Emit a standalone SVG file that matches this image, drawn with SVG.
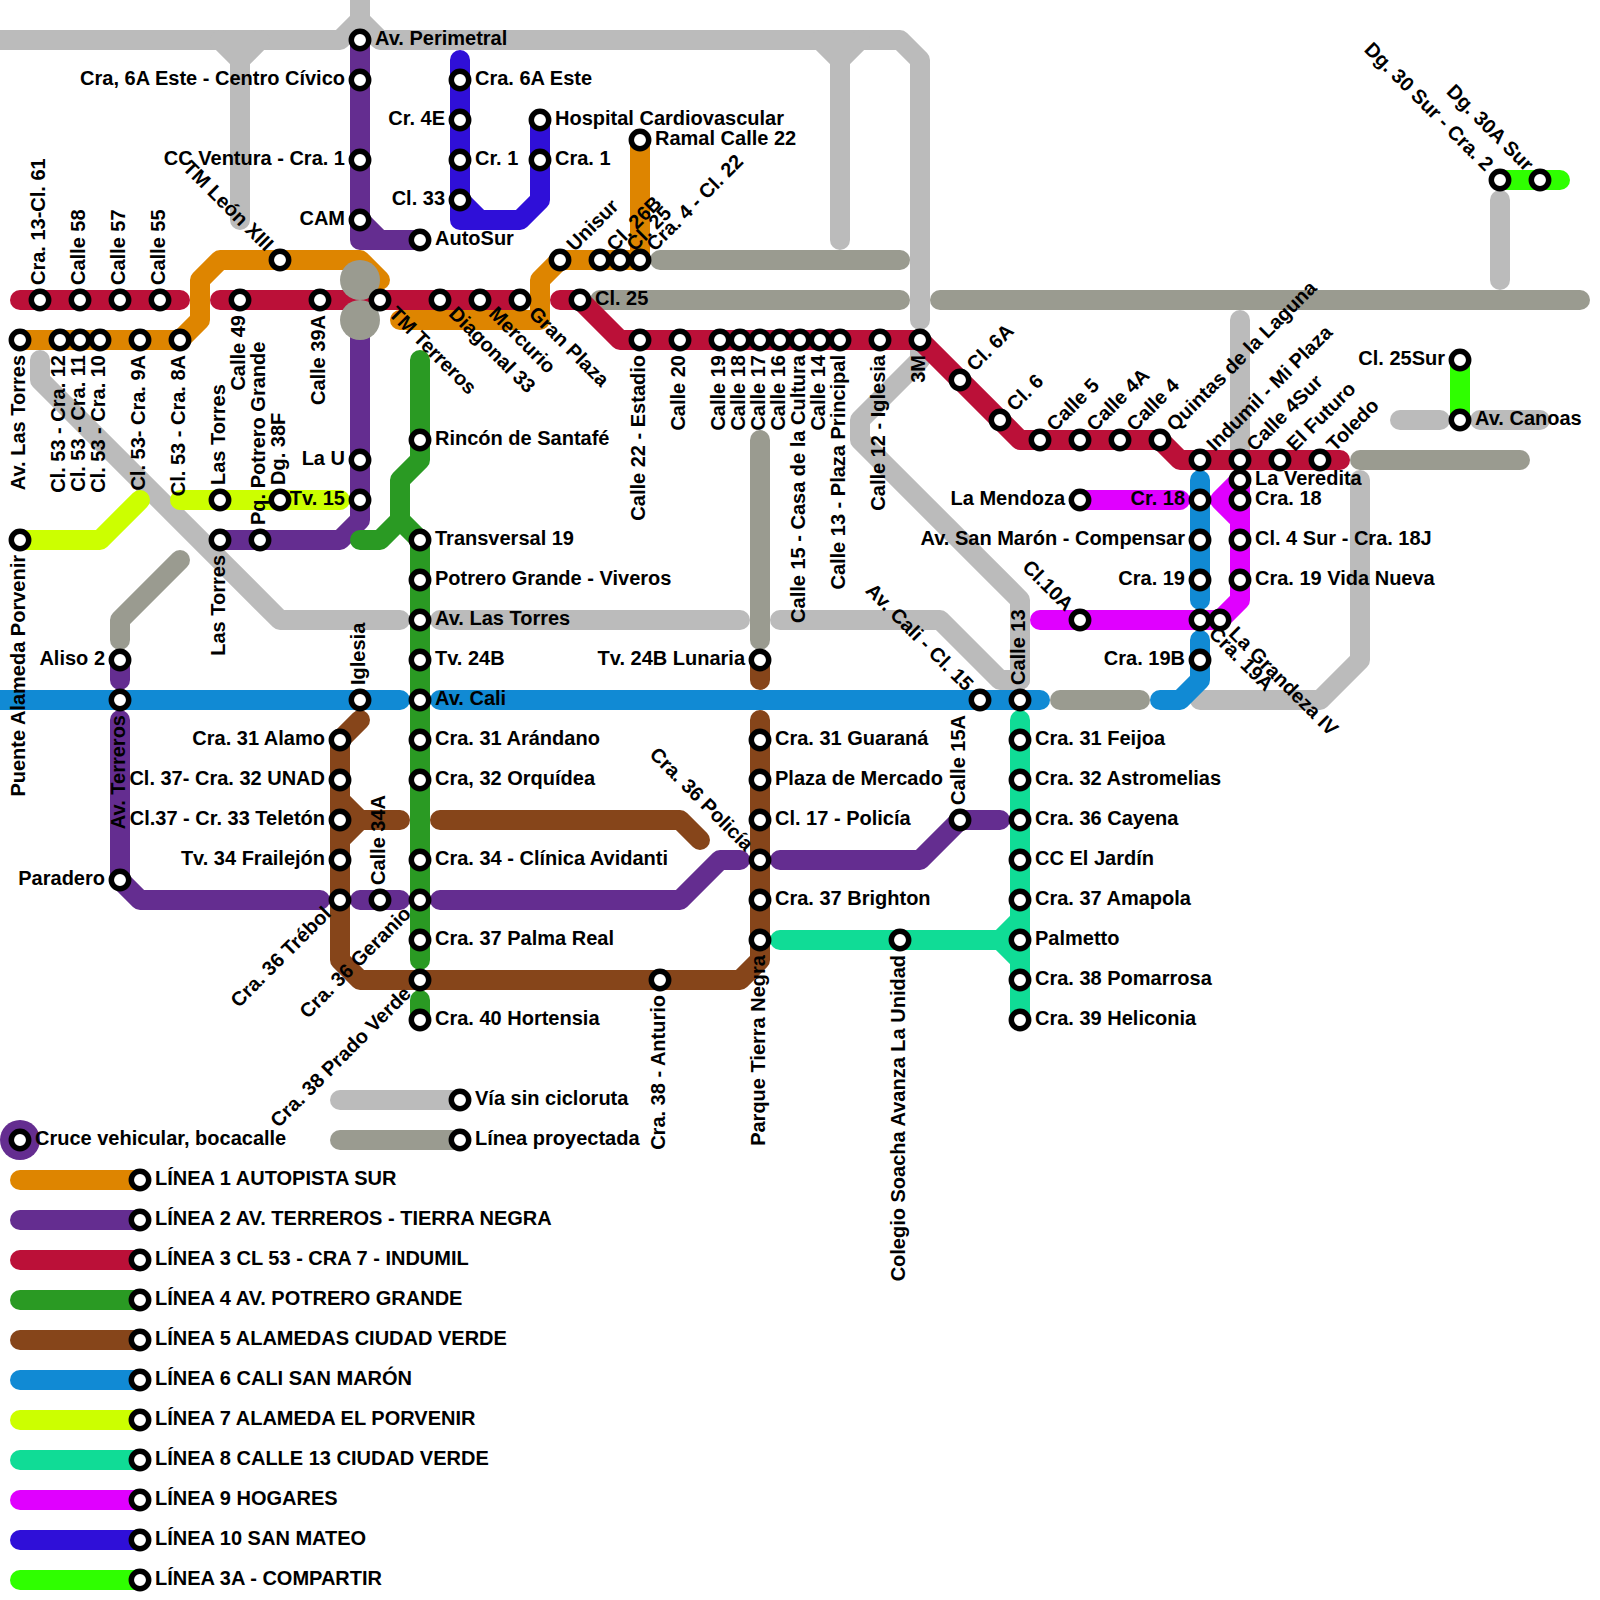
<svg xmlns="http://www.w3.org/2000/svg" width="1600" height="1600" viewBox="0 0 1600 1600">
<style>
text{font-family:"Liberation Sans",Arial,sans-serif;font-weight:bold;font-size:20px;fill:#000}
.e{text-anchor:end}
.st{fill:#fff;stroke:#000;stroke-width:5.5}
#lines path{fill:none;stroke-width:20;stroke-linecap:round;stroke-linejoin:round}
.g{stroke:#bbbbbb}.p{stroke:#9a9b90}.l1{stroke:#de8500}.l2{stroke:#642d90}.l3{stroke:#bb1038}.l4{stroke:#2a9a23}.l5{stroke:#86451a}.l6{stroke:#118ad4}.l7{stroke:#ccff00}.l8{stroke:#10dc96}.l9{stroke:#e000ff}.l10{stroke:#2f0fd8}.l3a{stroke:#2fff00}
.blob{fill:#9a9b90}
</style>
<rect width="1600" height="1600" fill="#fff"/>
<g id="lines">
<path class="g" d="M-20 40H340L360 20V-20M360 20L380 40H900L920 60V320"/>
<path class="g" d="M220 40L240 60V220M260 40L240 60"/>
<path class="g" d="M820 40L840 60V240M860 40L840 60"/>
<path class="g" d="M920 340V360L860 420V440L1020 600V680"/>
<path class="g" d="M40 360V380L280 620H400"/>
<path class="g" d="M440 620H740"/>
<path class="g" d="M780 620H940L1000 680H1020"/>
<path class="g" d="M1200 700H1320L1360 660V480"/>
<path class="g" d="M1240 320V450"/>
<path class="g" d="M1500 200V280"/>
<path class="g" d="M1400 420H1440"/>
<path class="g" d="M1480 420H1540"/>
<path class="g" d="M340 1100H460"/>
<path class="p" d="M660 260H900"/>
<path class="p" d="M600 300H900"/>
<path class="p" d="M940 300H1580"/>
<path class="p" d="M1360 460H1520"/>
<path class="p" d="M1060 700H1140"/>
<path class="p" d="M760 440V640"/>
<path class="p" d="M180 560L120 620V640"/>
<path class="p" d="M340 1140H460"/>
<path class="l2" d="M360 40V240H420M360 220L380 240"/>
<path class="l2" d="M360 320V520L340 540H220"/>
<path class="l2" d="M120 660V680"/>
<path class="l2" d="M120 720V880L140 900H320"/>
<path class="l2" d="M360 900H400"/>
<path class="l2" d="M440 900H680L720 860H740"/>
<path class="l2" d="M780 860H920L960 820H1000"/>
<path class="l3" d="M20 300H180"/>
<path class="l3" d="M220 300H520"/>
<path class="l3" d="M560 300H580L620 340H920L1020 440H1160L1180 460H1340"/>
<path class="l1" d="M20 340H180L200 320V280L220 260H360L380 280"/>
<path class="l1" d="M400 320H540V280L560 260H640V140"/>
<path class="l10" d="M460 60V220H520L540 200V120M460 200L480 220"/>
<path class="l7" d="M20 540H100L140 500"/>
<path class="l7" d="M180 500H340"/>
<path class="l4" d="M420 360V460L400 480V520L420 540V960M400 520L380 540H360"/>
<path class="l4" d="M420 1000V1020"/>
<path class="l5" d="M360 720L340 740V960L360 980H740L760 960V720"/>
<path class="l5" d="M340 800L360 820H400M340 840L360 820"/>
<path class="l5" d="M440 820H680L700 840"/>
<path class="l5" d="M760 660V680"/>
<path class="l9" d="M1080 500H1180"/>
<path class="l9" d="M1040 620H1220L1240 600V480L1220 500L1240 520"/>
<path class="l6" d="M-20 700H400"/>
<path class="l6" d="M440 700H1040"/>
<path class="l6" d="M1160 700H1180L1200 680V640"/>
<path class="l6" d="M1200 480V600"/>
<path class="l8" d="M1020 720V1020"/>
<path class="l8" d="M780 940H1000L1020 920M1000 940L1020 960"/>
<path class="l3a" d="M1460 360V420"/>
<path class="l3a" d="M1500 180H1560"/>
<path class="l1" d="M20 1180H140"/>
<path class="l2" d="M20 1220H140"/>
<path class="l3" d="M20 1260H140"/>
<path class="l4" d="M20 1300H140"/>
<path class="l5" d="M20 1340H140"/>
<path class="l6" d="M20 1380H140"/>
<path class="l7" d="M20 1420H140"/>
<path class="l8" d="M20 1460H140"/>
<path class="l9" d="M20 1500H140"/>
<path class="l10" d="M20 1540H140"/>
<path class="l3a" d="M20 1580H140"/>
</g>
<g id="crossing-blobs"><circle class="blob" cx="360" cy="280" r="20"/><circle class="blob" cx="360" cy="320" r="20"/></g>
<g id="nodes">
<g id="n1"><circle class="st" cx="360" cy="40" r="8.7"/><text x="375" y="44.5">Av. Perimetral</text></g>
<g id="n2"><circle class="st" cx="360" cy="80" r="8.7"/><text class="e" x="345" y="84.5">Cra, 6A Este - Centro Cívico</text></g>
<g id="n3"><circle class="st" cx="360" cy="160" r="8.7"/><text class="e" x="345" y="164.5">CC Ventura - Cra. 1</text></g>
<g id="n4"><circle class="st" cx="360" cy="220" r="8.7"/><text class="e" x="345" y="224.5">CAM</text></g>
<g id="n5"><circle class="st" cx="420" cy="240" r="8.7"/><text x="435" y="244.5">AutoSur</text></g>
<g id="n6"><circle class="st" cx="360" cy="460" r="8.7"/><text class="e" x="345" y="464.5">La U</text></g>
<g id="n7"><circle class="st" cx="360" cy="500" r="8.7"/><text class="e" x="345" y="504.5">Tv. 15</text></g>
<g id="n8"><circle class="st" cx="220" cy="540" r="8.7"/><text class="e" transform="translate(220 540) rotate(-90)" x="-15" y="5">Las Torres</text></g>
<g id="n9"><circle class="st" cx="260" cy="540" r="8.7"/><text transform="translate(260 540) rotate(-90)" x="15" y="5">Pq. Potrero Grande</text></g>
<g id="n10"><circle class="st" cx="120" cy="660" r="8.7"/><text class="e" x="105" y="664.5">Aliso 2</text></g>
<g id="n11"><circle class="st" cx="120" cy="700" r="8.7"/><text class="e" transform="translate(120 700) rotate(-90)" x="-15" y="5">Av. Terreros</text></g>
<g id="n12"><circle class="st" cx="120" cy="880" r="8.7"/><text class="e" x="105" y="884.5">Paradero</text></g>
<g id="n13"><circle class="st" cx="340" cy="900" r="8.7"/><text class="e" transform="translate(340 900) rotate(-45)" x="-16" y="5">Cra. 36 Trébol</text></g>
<g id="n14"><circle class="st" cx="380" cy="900" r="8.7"/><text transform="translate(380 900) rotate(-90)" x="15" y="5">Calle 34A</text></g>
<g id="n15"><circle class="st" cx="420" cy="900" r="8.7"/><text class="e" transform="translate(420 900) rotate(-45)" x="-16" y="5">Cra. 36 Geranio</text></g>
<g id="n16"><circle class="st" cx="760" cy="860" r="8.7"/><text class="e" transform="translate(760 860) rotate(45)" x="-16" y="5">Cra. 36 Policía</text></g>
<g id="n17"><circle class="st" cx="960" cy="820" r="8.7"/><text transform="translate(960 820) rotate(-90)" x="15" y="5">Calle 15A</text></g>
<g id="n18"><circle class="st" cx="1020" cy="820" r="8.7"/><text x="1035" y="824.5">Cra. 36 Cayena</text></g>
<g id="n19"><circle class="st" cx="40" cy="300" r="8.7"/><text transform="translate(40 300) rotate(-90)" x="15" y="5">Cra. 13-Cl. 61</text></g>
<g id="n20"><circle class="st" cx="80" cy="300" r="8.7"/><text transform="translate(80 300) rotate(-90)" x="15" y="5">Calle 58</text></g>
<g id="n21"><circle class="st" cx="120" cy="300" r="8.7"/><text transform="translate(120 300) rotate(-90)" x="15" y="5">Calle 57</text></g>
<g id="n22"><circle class="st" cx="160" cy="300" r="8.7"/><text transform="translate(160 300) rotate(-90)" x="15" y="5">Calle 55</text></g>
<g id="n23"><circle class="st" cx="240" cy="300" r="8.7"/><text class="e" transform="translate(240 300) rotate(-90)" x="-15" y="5">Calle 49</text></g>
<g id="n24"><circle class="st" cx="320" cy="300" r="8.7"/><text class="e" transform="translate(320 300) rotate(-90)" x="-15" y="5">Calle 39A</text></g>
<g id="n25"><circle class="st" cx="380" cy="300" r="8.7"/><text transform="translate(380 300) rotate(45)" x="16" y="5">TM Terreros</text></g>
<g id="n26"><circle class="st" cx="440" cy="300" r="8.7"/><text transform="translate(440 300) rotate(45)" x="16" y="5">Diagonal 33</text></g>
<g id="n27"><circle class="st" cx="480" cy="300" r="8.7"/><text transform="translate(480 300) rotate(45)" x="16" y="5">Mercurio</text></g>
<g id="n28"><circle class="st" cx="520" cy="300" r="8.7"/><text transform="translate(520 300) rotate(45)" x="16" y="5">Gran Plaza</text></g>
<g id="n29"><circle class="st" cx="580" cy="300" r="8.7"/><text x="595" y="304.5">Cl. 25</text></g>
<g id="n30"><circle class="st" cx="640" cy="340" r="8.7"/><text class="e" transform="translate(640 340) rotate(-90)" x="-15" y="5">Calle 22 - Estadio</text></g>
<g id="n31"><circle class="st" cx="680" cy="340" r="8.7"/><text class="e" transform="translate(680 340) rotate(-90)" x="-15" y="5">Calle 20</text></g>
<g id="n32"><circle class="st" cx="720" cy="340" r="8.7"/><text class="e" transform="translate(720 340) rotate(-90)" x="-15" y="5">Calle 19</text></g>
<g id="n33"><circle class="st" cx="740" cy="340" r="8.7"/><text class="e" transform="translate(740 340) rotate(-90)" x="-15" y="5">Calle 18</text></g>
<g id="n34"><circle class="st" cx="760" cy="340" r="8.7"/><text class="e" transform="translate(760 340) rotate(-90)" x="-15" y="5">Calle 17</text></g>
<g id="n35"><circle class="st" cx="780" cy="340" r="8.7"/><text class="e" transform="translate(780 340) rotate(-90)" x="-15" y="5">Calle 16</text></g>
<g id="n36"><circle class="st" cx="800" cy="340" r="8.7"/><text class="e" transform="translate(800 340) rotate(-90)" x="-15" y="5">Calle 15 - Casa de la Cultura</text></g>
<g id="n37"><circle class="st" cx="820" cy="340" r="8.7"/><text class="e" transform="translate(820 340) rotate(-90)" x="-15" y="5">Calle 14</text></g>
<g id="n38"><circle class="st" cx="840" cy="340" r="8.7"/><text class="e" transform="translate(840 340) rotate(-90)" x="-15" y="5">Calle 13 - Plaza Principal</text></g>
<g id="n39"><circle class="st" cx="880" cy="340" r="8.7"/><text class="e" transform="translate(880 340) rotate(-90)" x="-15" y="5">Calle 12 - Iglesia</text></g>
<g id="n40"><circle class="st" cx="920" cy="340" r="8.7"/><text class="e" transform="translate(920 340) rotate(-90)" x="-15" y="5">3M</text></g>
<g id="n41"><circle class="st" cx="960" cy="380" r="8.7"/><text transform="translate(960 380) rotate(-45)" x="16" y="5">Cl. 6A</text></g>
<g id="n42"><circle class="st" cx="1000" cy="420" r="8.7"/><text transform="translate(1000 420) rotate(-45)" x="16" y="5">Cl. 6</text></g>
<g id="n43"><circle class="st" cx="1040" cy="440" r="8.7"/><text transform="translate(1040 440) rotate(-45)" x="16" y="5">Calle 5</text></g>
<g id="n44"><circle class="st" cx="1080" cy="440" r="8.7"/><text transform="translate(1080 440) rotate(-45)" x="16" y="5">Calle 4A</text></g>
<g id="n45"><circle class="st" cx="1120" cy="440" r="8.7"/><text transform="translate(1120 440) rotate(-45)" x="16" y="5">Calle 4</text></g>
<g id="n46"><circle class="st" cx="1160" cy="440" r="8.7"/><text transform="translate(1160 440) rotate(-45)" x="16" y="5">Quintas de la Laguna</text></g>
<g id="n47"><circle class="st" cx="1200" cy="460" r="8.7"/><text transform="translate(1200 460) rotate(-45)" x="16" y="5">Indumil - Mi Plaza</text></g>
<g id="n48"><circle class="st" cx="1240" cy="460" r="8.7"/><text transform="translate(1240 460) rotate(-45)" x="16" y="5">Calle 4Sur</text></g>
<g id="n49"><circle class="st" cx="1280" cy="460" r="8.7"/><text transform="translate(1280 460) rotate(-45)" x="16" y="5">El Futuro</text></g>
<g id="n50"><circle class="st" cx="1320" cy="460" r="8.7"/><text transform="translate(1320 460) rotate(-45)" x="16" y="5">Toledo</text></g>
<g id="n51"><circle class="st" cx="20" cy="340" r="8.7"/><text class="e" transform="translate(20 340) rotate(-90)" x="-15" y="5">Av. Las Torres</text></g>
<g id="n52"><circle class="st" cx="60" cy="340" r="8.7"/><text class="e" transform="translate(60 340) rotate(-90)" x="-15" y="5">Cl. 53 - Cra. 12</text></g>
<g id="n53"><circle class="st" cx="80" cy="340" r="8.7"/><text class="e" transform="translate(80 340) rotate(-90)" x="-15" y="5">Cl. 53 - Cra. 11</text></g>
<g id="n54"><circle class="st" cx="100" cy="340" r="8.7"/><text class="e" transform="translate(100 340) rotate(-90)" x="-15" y="5">Cl. 53 - Cra. 10</text></g>
<g id="n55"><circle class="st" cx="140" cy="340" r="8.7"/><text class="e" transform="translate(140 340) rotate(-90)" x="-15" y="5">Cl. 53- Cra. 9A</text></g>
<g id="n56"><circle class="st" cx="180" cy="340" r="8.7"/><text class="e" transform="translate(180 340) rotate(-90)" x="-15" y="5">Cl. 53 - Cra. 8A</text></g>
<g id="n57"><circle class="st" cx="280" cy="260" r="8.7"/><text class="e" transform="translate(280 260) rotate(45)" x="-16" y="5">TM León XIII</text></g>
<g id="n58"><circle class="st" cx="560" cy="260" r="8.7"/><text transform="translate(560 260) rotate(-45)" x="16" y="5">Unisur</text></g>
<g id="n59"><circle class="st" cx="600" cy="260" r="8.7"/><text transform="translate(600 260) rotate(-45)" x="16" y="5">Cl. 26B</text></g>
<g id="n60"><circle class="st" cx="620" cy="260" r="8.7"/><text transform="translate(620 260) rotate(-45)" x="16" y="5">Cl. 25</text></g>
<g id="n61"><circle class="st" cx="640" cy="260" r="8.7"/><text transform="translate(640 260) rotate(-45)" x="16" y="5">Cra. 4 - Cl. 22</text></g>
<g id="n62"><circle class="st" cx="640" cy="140" r="8.7"/><text x="655" y="144.5">Ramal Calle 22</text></g>
<g id="n63"><circle class="st" cx="460" cy="80" r="8.7"/><text x="475" y="84.5">Cra. 6A Este</text></g>
<g id="n64"><circle class="st" cx="460" cy="120" r="8.7"/><text class="e" x="445" y="124.5">Cr. 4E</text></g>
<g id="n65"><circle class="st" cx="460" cy="160" r="8.7"/><text x="475" y="164.5">Cr. 1</text></g>
<g id="n66"><circle class="st" cx="460" cy="200" r="8.7"/><text class="e" x="445" y="204.5">Cl. 33</text></g>
<g id="n67"><circle class="st" cx="540" cy="120" r="8.7"/><text x="555" y="124.5">Hospital Cardiovascular</text></g>
<g id="n68"><circle class="st" cx="540" cy="160" r="8.7"/><text x="555" y="164.5">Cra. 1</text></g>
<g id="n69"><circle class="st" cx="20" cy="540" r="8.7"/><text class="e" transform="translate(20 540) rotate(-90)" x="-15" y="5">Puente Alameda Porvenir</text></g>
<g id="n70"><circle class="st" cx="220" cy="500" r="8.7"/><text transform="translate(220 500) rotate(-90)" x="15" y="5">Las Torres</text></g>
<g id="n71"><circle class="st" cx="280" cy="500" r="8.7"/><text transform="translate(280 500) rotate(-90)" x="15" y="5">Dg. 38F</text></g>
<g id="n72"><circle class="st" cx="420" cy="440" r="8.7"/><text x="435" y="444.5">Rincón de Santafé</text></g>
<g id="n73"><circle class="st" cx="420" cy="540" r="8.7"/><text x="435" y="544.5">Transversal 19</text></g>
<g id="n74"><circle class="st" cx="420" cy="580" r="8.7"/><text x="435" y="584.5">Potrero Grande - Viveros</text></g>
<g id="n75"><circle class="st" cx="420" cy="620" r="8.7"/><text x="435" y="624.5">Av. Las Torres</text></g>
<g id="n76"><circle class="st" cx="420" cy="660" r="8.7"/><text x="435" y="664.5">Tv. 24B</text></g>
<g id="n77"><circle class="st" cx="420" cy="700" r="8.7"/><text x="435" y="704.5">Av. Cali</text></g>
<g id="n78"><circle class="st" cx="420" cy="740" r="8.7"/><text x="435" y="744.5">Cra. 31 Arándano</text></g>
<g id="n79"><circle class="st" cx="420" cy="780" r="8.7"/><text x="435" y="784.5">Cra, 32 Orquídea</text></g>
<g id="n80"><circle class="st" cx="420" cy="860" r="8.7"/><text x="435" y="864.5">Cra. 34 - Clínica Avidanti</text></g>
<g id="n81"><circle class="st" cx="420" cy="940" r="8.7"/><text x="435" y="944.5">Cra. 37 Palma Real</text></g>
<g id="n82"><circle class="st" cx="420" cy="980" r="8.7"/><text class="e" transform="translate(420 980) rotate(-45)" x="-16" y="5">Cra. 38 Prado Verde</text></g>
<g id="n83"><circle class="st" cx="420" cy="1020" r="8.7"/><text x="435" y="1024.5">Cra. 40 Hortensia</text></g>
<g id="n84"><circle class="st" cx="340" cy="740" r="8.7"/><text class="e" x="325" y="744.5">Cra. 31 Alamo</text></g>
<g id="n85"><circle class="st" cx="340" cy="780" r="8.7"/><text class="e" x="325" y="784.5">Cl. 37- Cra. 32 UNAD</text></g>
<g id="n86"><circle class="st" cx="340" cy="820" r="8.7"/><text class="e" x="325" y="824.5">Cl.37 - Cr. 33 Teletón</text></g>
<g id="n87"><circle class="st" cx="340" cy="860" r="8.7"/><text class="e" x="325" y="864.5">Tv. 34 Frailejón</text></g>
<g id="n88"><circle class="st" cx="660" cy="980" r="8.7"/><text class="e" transform="translate(660 980) rotate(-90)" x="-15" y="5">Cra. 38 - Anturio</text></g>
<g id="n89"><circle class="st" cx="760" cy="660" r="8.7"/><text class="e" x="745" y="664.5">Tv. 24B Lunaria</text></g>
<g id="n90"><circle class="st" cx="760" cy="740" r="8.7"/><text x="775" y="744.5">Cra. 31 Guaraná</text></g>
<g id="n91"><circle class="st" cx="760" cy="780" r="8.7"/><text x="775" y="784.5">Plaza de Mercado</text></g>
<g id="n92"><circle class="st" cx="760" cy="820" r="8.7"/><text x="775" y="824.5">Cl. 17 - Policía</text></g>
<g id="n93"><circle class="st" cx="760" cy="900" r="8.7"/><text x="775" y="904.5">Cra. 37 Brighton</text></g>
<g id="n94"><circle class="st" cx="760" cy="940" r="8.7"/><text class="e" transform="translate(760 940) rotate(-90)" x="-15" y="5">Parque Tierra Negra</text></g>
<g id="n95"><circle class="st" cx="360" cy="700" r="8.7"/><text transform="translate(360 700) rotate(-90)" x="15" y="5">Iglesia</text></g>
<g id="n96"><circle class="st" cx="980" cy="700" r="8.7"/><text class="e" transform="translate(980 700) rotate(45)" x="-16" y="5">Av. Cali - Cl. 15</text></g>
<g id="n97"><circle class="st" cx="1020" cy="700" r="8.7"/><text transform="translate(1020 700) rotate(-90)" x="15" y="5">Calle 13</text></g>
<g id="n98"><circle class="st" cx="1200" cy="660" r="8.7"/><text class="e" x="1185" y="664.5">Cra. 19B</text></g>
<g id="n99"><circle class="st" cx="1200" cy="620" r="8.7"/><text transform="translate(1200 620) rotate(45)" x="16" y="5">Cra. 19A</text></g>
<g id="n100"><circle class="st" cx="1200" cy="580" r="8.7"/><text class="e" x="1185" y="584.5">Cra. 19</text></g>
<g id="n101"><circle class="st" cx="1200" cy="540" r="8.7"/><text class="e" x="1185" y="544.5">Av. San Marón - Compensar</text></g>
<g id="n102"><circle class="st" cx="1200" cy="500" r="8.7"/><text class="e" x="1185" y="504.5">Cr. 18</text></g>
<g id="n103"><circle class="st" cx="1080" cy="500" r="8.7"/><text class="e" x="1065" y="504.5">La Mendoza</text></g>
<g id="n104"><circle class="st" cx="1080" cy="620" r="8.7"/><text class="e" transform="translate(1080 620) rotate(45)" x="-16" y="5">Cl.10A</text></g>
<g id="n105"><circle class="st" cx="1240" cy="480" r="8.7"/><text x="1255" y="484.5">La Veredita</text></g>
<g id="n106"><circle class="st" cx="1240" cy="500" r="8.7"/><text x="1255" y="504.5">Cra. 18</text></g>
<g id="n107"><circle class="st" cx="1240" cy="540" r="8.7"/><text x="1255" y="544.5">Cl. 4 Sur - Cra. 18J</text></g>
<g id="n108"><circle class="st" cx="1240" cy="580" r="8.7"/><text x="1255" y="584.5">Cra. 19 Vida Nueva</text></g>
<g id="n109"><circle class="st" cx="1220" cy="620" r="8.7"/><text transform="translate(1220 620) rotate(45)" x="16" y="5">La Grandeza IV</text></g>
<g id="n110"><circle class="st" cx="1460" cy="360" r="8.7"/><text class="e" x="1445" y="364.5">Cl. 25Sur</text></g>
<g id="n111"><circle class="st" cx="1460" cy="420" r="8.7"/><text x="1475" y="424.5">Av. Canoas</text></g>
<g id="n112"><circle class="st" cx="1500" cy="180" r="8.7"/><text class="e" transform="translate(1500 180) rotate(45)" x="-16" y="5">Dg. 30 Sur - Cra. 2</text></g>
<g id="n113"><circle class="st" cx="1540" cy="180" r="8.7"/><text class="e" transform="translate(1540 180) rotate(45)" x="-16" y="5">Dg. 30A Sur</text></g>
<g id="n114"><circle class="st" cx="900" cy="940" r="8.7"/><text class="e" transform="translate(900 940) rotate(-90)" x="-15" y="5">Colegio Soacha Avanza La Unidad</text></g>
<g id="n115"><circle class="st" cx="1020" cy="740" r="8.7"/><text x="1035" y="744.5">Cra. 31 Feijoa</text></g>
<g id="n116"><circle class="st" cx="1020" cy="780" r="8.7"/><text x="1035" y="784.5">Cra. 32 Astromelias</text></g>
<g id="n117"><circle class="st" cx="1020" cy="860" r="8.7"/><text x="1035" y="864.5">CC El Jardín</text></g>
<g id="n118"><circle class="st" cx="1020" cy="900" r="8.7"/><text x="1035" y="904.5">Cra. 37 Amapola</text></g>
<g id="n119"><circle class="st" cx="1020" cy="940" r="8.7"/><text x="1035" y="944.5">Palmetto</text></g>
<g id="n120"><circle class="st" cx="1020" cy="980" r="8.7"/><text x="1035" y="984.5">Cra. 38 Pomarrosa</text></g>
<g id="n121"><circle class="st" cx="1020" cy="1020" r="8.7"/><text x="1035" y="1024.5">Cra. 39 Heliconia</text></g>
</g>
<g id="legend">
<g id="k-cruce"><circle cx="20" cy="1140" r="20" fill="#642d90"/><circle class="st" cx="20" cy="1140" r="8.7"/><text x="35" y="1144.5">Cruce vehicular, bocacalle</text></g>
<g id="k-via"><circle class="st" cx="460" cy="1100" r="8.7"/><text x="475" y="1104.5">Vía sin cicloruta</text></g>
<g id="k-proy"><circle class="st" cx="460" cy="1140" r="8.7"/><text x="475" y="1144.5">Línea proyectada</text></g>
<g id="k1"><circle class="st" cx="140" cy="1180" r="8.7"/><text x="155" y="1184.5">LÍNEA 1 AUTOPISTA SUR</text></g>
<g id="k2"><circle class="st" cx="140" cy="1220" r="8.7"/><text x="155" y="1224.5">LÍNEA 2 AV. TERREROS - TIERRA NEGRA</text></g>
<g id="k3"><circle class="st" cx="140" cy="1260" r="8.7"/><text x="155" y="1264.5">LÍNEA 3 CL 53 - CRA 7 - INDUMIL</text></g>
<g id="k4"><circle class="st" cx="140" cy="1300" r="8.7"/><text x="155" y="1304.5">LÍNEA 4 AV. POTRERO GRANDE</text></g>
<g id="k5"><circle class="st" cx="140" cy="1340" r="8.7"/><text x="155" y="1344.5">LÍNEA 5 ALAMEDAS CIUDAD VERDE</text></g>
<g id="k6"><circle class="st" cx="140" cy="1380" r="8.7"/><text x="155" y="1384.5">LÍNEA 6 CALI SAN MARÓN</text></g>
<g id="k7"><circle class="st" cx="140" cy="1420" r="8.7"/><text x="155" y="1424.5">LÍNEA 7 ALAMEDA EL PORVENIR</text></g>
<g id="k8"><circle class="st" cx="140" cy="1460" r="8.7"/><text x="155" y="1464.5">LÍNEA 8 CALLE 13 CIUDAD VERDE</text></g>
<g id="k9"><circle class="st" cx="140" cy="1500" r="8.7"/><text x="155" y="1504.5">LÍNEA 9 HOGARES</text></g>
<g id="k10"><circle class="st" cx="140" cy="1540" r="8.7"/><text x="155" y="1544.5">LÍNEA 10 SAN MATEO</text></g>
<g id="k11"><circle class="st" cx="140" cy="1580" r="8.7"/><text x="155" y="1584.5">LÍNEA 3A - COMPARTIR</text></g>
</g>
</svg>
